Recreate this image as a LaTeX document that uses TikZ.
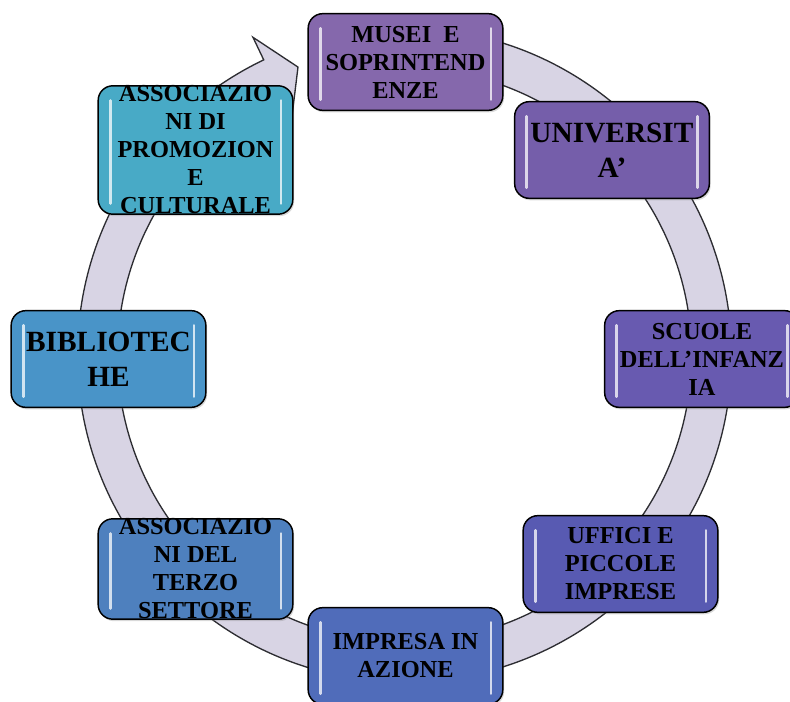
\documentclass[tikz,border=0pt]{standalone}
\usepackage{fontspec}
\setmainfont{Liberation Serif}
\usetikzlibrary{shadows}

\definecolor{ringfill}{RGB}{216,212,228}
\definecolor{ringline}{RGB}{45,45,50}
\definecolor{boxA}{RGB}{133,104,172}
\definecolor{boxB}{RGB}{117,94,170}
\definecolor{boxC}{RGB}{104,90,176}
\definecolor{boxD}{RGB}{88,90,178}
\definecolor{boxE}{RGB}{80,108,186}
\definecolor{boxF}{RGB}{78,128,190}
\definecolor{boxG}{RGB}{73,148,200}
\definecolor{boxH}{RGB}{72,170,198}

\tikzset{every picture/.style={line width=0.75pt}}
\tikzset{
  cyclebox/.style={draw=black, line width=1.1pt, rounded corners=11pt,
    minimum width=146pt, minimum height=72.5pt, inner sep=0pt, align=center,
    font=\fontsize{18.3}{21}\selectfont\bfseries,
    drop shadow={opacity=0.3, shadow xshift=1pt, shadow yshift=-1.5pt},
    path picture={
      \draw [white, opacity=0.75, line width=2pt, line cap=round]
        ([shift={(9pt,-11pt)}]path picture bounding box.north west) -- ([shift={(9pt,8pt)}]path picture bounding box.south west)
        ([shift={(-9pt,-11pt)}]path picture bounding box.north east) -- ([shift={(-9pt,8pt)}]path picture bounding box.south east);
    }},
  bigtext/.style={font=\fontsize{22}{26}\selectfont\bfseries},
  ring/.style={fill=ringfill, draw=ringline, line width=1pt, line join=miter},
}

\begin{document}
\begin{tikzpicture}[x=0.75pt,y=0.75pt,yscale=-1,xscale=1]
\useasboundingbox (0,0) rectangle (790,702);

%Shape: Circular Arrow
\draw [ring] ([shift={(404.5,355)}]-90:327) arc[start angle=-90, end angle=244.5, radius=327]
  -- ([shift={(404.5,355)}]244.5:352) -- ([shift={(404.5,355)}]249.7:307)
  -- ([shift={(404.5,355)}]244.5:262) -- ([shift={(404.5,355)}]244.5:287)
  arc[start angle=244.5, end angle=-90, radius=287] -- cycle;

%Shape: Rounded Rect
\draw (405.5,62) node [cyclebox, fill=boxA] (museums) {MUSEI~ E\\SOPRINTEND\\ENZE};
%Shape: Rounded Rect
\draw (612,150) node [cyclebox, fill=boxB, bigtext] (university) {UNIVERSIT\\A’};
%Shape: Rounded Rect
\draw (702,359) node [cyclebox, fill=boxC] (schools) {SCUOLE\\DELL’INFANZ\\IA};
%Shape: Rounded Rect
\draw (620.5,564) node [cyclebox, fill=boxD] (offices) {UFFICI E\\PICCOLE\\IMPRESE};
%Shape: Rounded Rect
\draw (405.5,656) node [cyclebox, fill=boxE] (enterprise) {IMPRESA IN\\AZIONE};
%Shape: Rounded Rect
\draw (195.5,569) node [cyclebox, fill=boxF] (thirdsector) {ASSOCIAZIO\\NI DEL\\TERZO\\SETTORE};
%Shape: Rounded Rect
\draw (108.5,359) node [cyclebox, fill=boxG, bigtext] (libraries) {BIBLIOTEC\\HE};
%Shape: Rounded Rect
\draw (195.5,150) node [cyclebox, fill=boxH] (promotion) {ASSOCIAZIO\\NI DI\\PROMOZION\\E\\CULTURALE};
\end{tikzpicture}
\end{document}
